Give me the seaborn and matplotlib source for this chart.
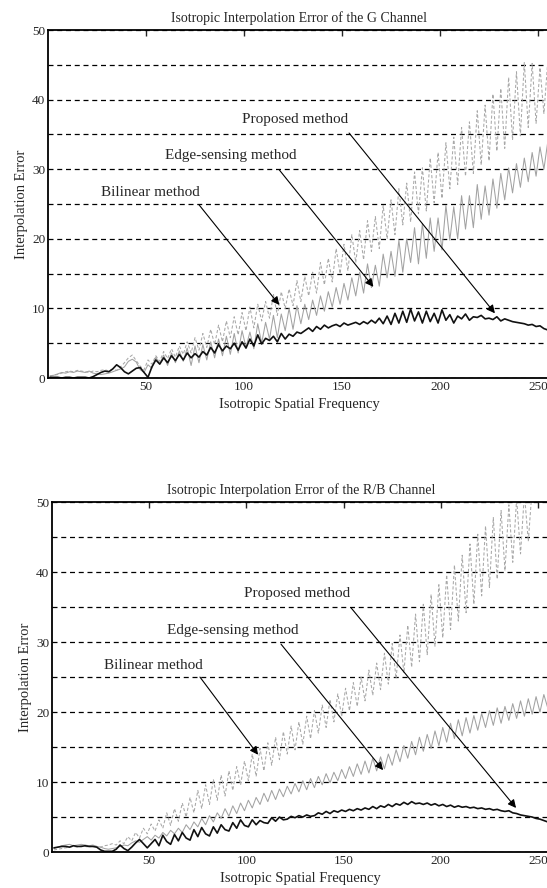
import matplotlib
matplotlib.use("Agg")
import matplotlib.pyplot as plt
import seaborn as sns
import pandas as pd
from matplotlib.ticker import MultipleLocator

# sample positions (isotropic spatial frequency)
freq = list(range(1, 256, 2))

# --- G channel ---
g_proposed = [0.1, 0.1, 0.1, 0.0, 0.1, 0.1, 0.0, 0.1, 0.1, 0.1, 0.0, 0.2, 0.5, 0.8, 1.0, 0.9,
              1.3, 1.9, 1.5, 0.9, 0.6, 1.0, 1.4, 1.5, 0.8, 0.1, 1.6, 2.6, 2.0, 2.9, 2.2, 3.2,
              2.5, 3.4, 2.6, 3.6, 2.9, 3.5, 3.0, 3.8, 3.3, 4.4, 3.6, 4.8, 3.9, 4.6, 4.2, 5.0,
              4.0, 5.2, 4.3, 5.6, 4.6, 6.2, 4.9, 5.7, 5.4, 6.0, 5.2, 6.4, 5.6, 6.3, 6.0, 6.6,
              6.4, 6.8, 7.2, 6.7, 7.4, 7.0, 7.6, 7.2, 7.5, 7.7, 7.4, 7.9, 7.6, 7.8, 8.0, 7.7,
              8.1, 7.8, 8.3, 7.9, 8.6, 7.8, 8.9, 7.7, 9.3, 7.9, 9.6, 8.0, 9.9, 8.2, 9.5, 7.9,
              9.6, 8.1, 9.3, 7.9, 9.8, 8.3, 9.1, 7.9, 8.9, 8.5, 9.2, 8.3, 8.8, 8.7, 9.0, 8.5,
              8.6, 8.4, 8.8, 8.2, 8.5, 8.3, 8.1, 8.0, 7.9, 7.8, 7.6, 7.7, 7.4, 7.5, 7.1, 6.9]

g_edge = [0.3, 0.4, 0.6, 0.8, 0.7, 0.9, 0.8, 1.0, 0.9, 0.8, 1.0, 0.7, 0.6, 0.5, 0.6, 0.7,
          0.9, 1.1, 1.3, 1.6, 2.4, 2.7, 2.3, 1.2, 0.8, 1.9, 1.4, 3.0, 2.0, 3.3, 1.8, 3.6,
          2.2, 3.9, 2.4, 4.3, 1.8, 4.6, 2.2, 4.8, 2.6, 5.2, 2.9, 5.6, 3.2, 6.0, 3.4, 6.4,
          3.6, 6.8, 4.4, 6.6, 4.2, 7.8, 5.0, 8.0, 5.6, 9.0, 5.8, 9.2, 6.8, 10.0, 7.0, 10.4,
          7.8, 10.6, 8.4, 11.2, 9.0, 11.8, 9.6, 12.4, 10.2, 13.0, 10.6, 13.6, 11.2, 14.4, 11.8, 15.2,
          12.2, 16.4, 13.0, 16.2, 13.2, 17.8, 14.4, 18.2, 14.6, 19.8, 15.2, 20.0, 16.6, 21.6, 16.4, 22.2,
          17.2, 23.0, 18.2, 23.0, 18.4, 24.8, 19.8, 24.6, 20.0, 26.2, 21.4, 26.2, 21.6, 27.8, 22.8, 27.6,
          23.4, 28.6, 24.4, 29.4, 25.6, 30.2, 26.6, 30.8, 27.4, 31.6, 28.2, 32.4, 29.0, 33.2, 30.0, 34.0]

g_bilinear = [0.3, 0.4, 0.5, 0.7, 0.9, 1.0, 0.9, 1.1, 1.0, 0.9, 0.8, 1.0, 0.9, 1.1, 1.2, 1.0,
              1.3, 1.1, 1.6, 2.2, 2.9, 3.3, 2.5, 1.7, 1.2, 2.6, 2.0, 3.2, 2.4, 3.8, 2.8, 4.2,
              3.0, 4.6, 3.4, 5.2, 3.6, 5.8, 4.0, 6.4, 4.4, 7.0, 4.8, 7.6, 5.2, 8.2, 5.8, 8.8,
              6.2, 9.4, 6.8, 10.2, 7.2, 10.6, 8.2, 11.0, 8.6, 12.0, 9.0, 12.4, 10.0, 12.8, 10.4, 14.0,
              11.0, 14.6, 11.8, 15.2, 12.2, 16.6, 13.4, 17.2, 13.8, 18.6, 15.0, 19.2, 15.4, 20.6, 16.6, 21.2,
              17.0, 22.6, 18.2, 23.2, 18.6, 24.8, 20.0, 25.6, 20.6, 27.2, 22.0, 28.0, 22.4, 29.6, 23.6, 30.2,
              24.0, 31.6, 25.2, 32.4, 25.8, 33.8, 27.2, 34.6, 27.8, 36.0, 29.0, 36.8, 29.4, 38.4, 30.6, 39.2,
              31.2, 40.8, 32.6, 41.6, 33.0, 43.2, 34.2, 44.0, 34.8, 45.4, 36.0, 45.2, 36.6, 44.6, 38.0, 45.6]

# --- R/B channel ---
b_proposed = [0.6, 0.7, 0.8, 0.8, 0.7, 0.9, 0.8, 0.8, 0.9, 0.8, 0.8, 0.7, 0.3, 0.1, 0.1, 0.1,
              0.4, 1.0, 0.5, 0.2, 0.7, 1.3, 1.8, 1.2, 0.6, 1.2, 1.8, 0.9, 2.4, 1.5, 1.1, 2.5,
              1.6, 2.8, 2.0, 1.7, 3.2, 2.2, 3.5, 2.6, 2.3, 3.6, 2.7, 3.9, 3.2, 3.0, 4.2, 3.4,
              4.6, 3.8, 3.6, 4.6, 3.9, 4.5, 4.2, 4.1, 4.9, 4.4, 5.0, 4.6, 4.7, 5.1, 4.9, 5.2,
              5.0, 5.3, 5.1, 5.2, 5.6, 5.4, 5.8, 5.5, 5.9, 5.7, 6.0, 5.8, 6.1, 5.9, 6.2, 6.0,
              6.3, 6.1, 6.5, 6.2, 6.6, 6.4, 6.8, 6.5, 6.9, 6.7, 7.1, 6.8, 7.2, 6.9, 7.0, 6.8,
              7.0, 6.7, 6.9, 6.6, 6.8, 6.5, 6.7, 6.4, 6.6, 6.4, 6.5, 6.3, 6.4, 6.2, 6.3, 6.1,
              6.2, 6.0, 6.1, 5.9, 5.8, 5.9, 5.6, 5.5, 5.3, 5.2, 5.1, 5.0, 4.8, 4.7, 4.5, 4.3]

b_edge = [0.5, 0.7, 0.9, 1.0, 1.1, 0.9, 1.0, 1.1, 1.0, 0.9, 1.0, 0.8, 0.7, 0.5, 0.4, 0.5,
          0.6, 0.8, 1.0, 0.9, 1.3, 1.6, 1.4, 1.8, 2.2, 1.7, 2.4, 2.0, 2.8, 2.3, 3.1, 2.6,
          3.4, 2.8, 3.9, 3.2, 4.3, 3.6, 4.8, 3.9, 5.2, 4.3, 5.6, 4.8, 6.2, 5.1, 6.6, 5.5,
          7.0, 5.9, 7.4, 6.3, 7.8, 6.8, 8.4, 7.2, 8.8, 7.5, 9.0, 7.9, 9.4, 8.3, 9.8, 8.6,
          10.2, 8.9, 10.5, 9.2, 10.8, 9.6, 11.2, 9.9, 11.4, 10.2, 11.8, 10.5, 12.2, 10.8, 12.6, 11.1,
          13.0, 11.3, 13.4, 11.6, 13.6, 11.9, 14.0, 12.4, 14.6, 12.9, 15.2, 13.4, 15.8, 13.9, 16.4, 14.4,
          16.8, 14.8, 17.3, 15.2, 17.8, 15.7, 18.4, 16.2, 18.9, 16.6, 19.2, 17.0, 19.5, 17.4, 19.8, 17.8,
          20.2, 18.1, 20.6, 18.4, 20.8, 18.8, 21.2, 19.1, 21.6, 19.4, 21.9, 19.7, 22.2, 20.0, 22.5, 20.6]

b_bilinear = [0.3, 0.4, 0.5, 0.6, 0.7, 0.8, 0.7, 0.9, 0.8, 0.7, 0.9, 0.8, 0.7, 0.9, 1.0, 1.2,
              1.0, 1.6, 1.2, 2.2, 1.6, 2.8, 2.0, 3.4, 2.6, 4.0, 3.0, 4.6, 3.4, 5.6, 3.8, 6.2,
              4.4, 7.0, 5.0, 7.8, 5.6, 8.8, 6.2, 9.6, 6.8, 10.4, 7.4, 11.0, 8.0, 11.6, 8.8, 12.2,
              9.6, 13.0, 10.2, 14.0, 10.8, 14.8, 11.6, 15.6, 12.4, 16.4, 13.2, 17.2, 14.0, 18.0, 14.6, 18.6,
              15.4, 19.4, 16.2, 20.2, 17.0, 21.0, 17.8, 21.8, 18.6, 22.6, 19.4, 23.4, 20.2, 24.2, 20.8, 25.0,
              21.6, 26.0, 22.4, 27.0, 23.2, 28.4, 24.0, 29.8, 24.8, 31.0, 25.6, 32.4, 26.4, 34.0, 27.2, 35.4,
              28.2, 36.8, 29.4, 38.2, 30.6, 39.6, 31.8, 41.0, 33.0, 42.4, 34.2, 44.0, 35.4, 45.4, 36.6, 46.6,
              37.8, 47.8, 39.0, 48.8, 40.2, 49.6, 41.4, 50.5, 42.6, 51.2, 44.4, 52.0, 50.8, 53.0, 51.5, 54.0]

sns.set_style("white")
plt.rcParams['font.family'] = ['Liberation Serif', 'DejaVu Serif']

fig = plt.figure(figsize=(5.47, 8.88), dpi=100)
ax1 = fig.add_axes([0.0878, 0.5743, 0.9173, 0.3919])
ax2 = fig.add_axes([0.0951, 0.0405, 0.9098, 0.3941])


def panel(ax, title, proposed, edge, bilinear, notes):
    sns.lineplot(x=freq, y=bilinear, ax=ax, color="#a8a8a8", lw=0.75,
                 linestyle=(0, (3, 2)), estimator=None, sort=False)
    sns.lineplot(x=freq, y=edge, ax=ax, color="#a2a2a2", lw=0.75,
                 estimator=None, sort=False)
    sns.lineplot(x=freq, y=proposed, ax=ax, color="#111111", lw=1.2,
                 estimator=None, sort=False)
    ax.set_xlim(0, 256)
    ax.set_ylim(0, 50)
    ax.set_xticks([50, 100, 150, 200, 250])
    ax.set_yticks([0, 10, 20, 30, 40, 50])
    ax.yaxis.set_minor_locator(MultipleLocator(5))
    ax.grid(axis='y', which='both', color='k', linestyle=(0, (4, 3)), lw=0.9)
    ax.tick_params(which='major', direction='in', length=4, top=True,
                   labelsize=9.5, pad=2, width=1)
    ax.tick_params(which='minor', length=0)
    for s in ax.spines.values():
        s.set_linewidth(1.3)
        s.set_color('k')
    ax.set_title(title, fontsize=10, pad=6)
    ax.set_xlabel("Isotropic Spatial Frequency", fontsize=10.5, labelpad=4)
    ax.set_ylabel("Interpolation Error", fontsize=10.5, labelpad=3)
    for label, tpos, start, tip in notes:
        ax.text(tpos[0], tpos[1], label, fontsize=11, ha='center', va='center')
        ax.annotate('', xy=tip, xytext=start,
                    arrowprops=dict(arrowstyle='-|>', color='k', lw=0.8,
                                    mutation_scale=12, shrinkA=0, shrinkB=0))


panel(ax1, "Isotropic Interpolation Error of the G Channel",
      g_proposed, g_edge, g_bilinear,
      [("Proposed method", (125.8, 37.1), (153.6, 35.2), (228, 9.3)),
       ("Edge-sensing method", (93.1, 31.9), (118, 29.9), (166, 13.1)),
       ("Bilinear method", (52.3, 26.6), (77, 24.9), (118, 10.5))])

panel(ax2, "Isotropic Interpolation Error of the R/B Channel",
      b_proposed, b_edge, b_bilinear,
      [("Proposed method", (125.8, 37.0), (153.8, 34.9), (238.7, 6.3)),
       ("Edge-sensing method", (92.9, 31.7), (117.8, 29.7), (170.3, 11.7)),
       ("Bilinear method", (52.0, 26.7), (76.1, 25.0), (106, 13.9))])

fig.savefig("out.png", dpi=100)
